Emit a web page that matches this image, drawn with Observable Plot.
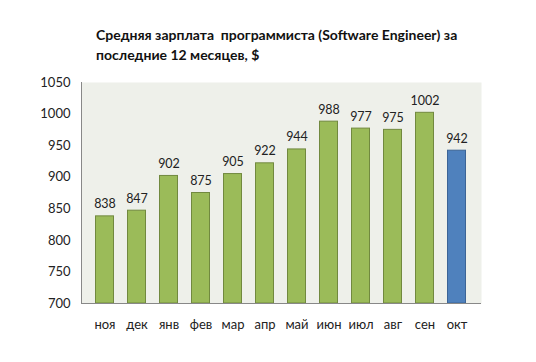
<!DOCTYPE html>
<html><head><meta charset="utf-8">
<script src="https://cdn.jsdelivr.net/npm/d3@7"></script>
<script src="https://cdn.jsdelivr.net/npm/@observablehq/plot@0.6"></script>
<style>
body{margin:0;background:#fff;font-family:Lato,"Open Sans",sans-serif;}
#wrap{position:relative;width:536px;height:362px;}
#title{position:absolute;left:96px;top:25px;font-weight:bold;font-size:14px;line-height:20px;color:#111;white-space:nowrap;}
</style></head>
<body><div id="wrap"><div id="title">Средняя зарплата&nbsp; программиста (Software Engineer) за<br>последние 12 месяцев, $</div></div>
<script>
const months = ["ноя","дек","янв","фев","мар","апр","май","июн","июл","авг","сен","окт"];
const salaries = [838, 847, 902, 875, 905, 922, 944, 988, 977, 975, 1002, 942];
const yTicks = [700, 750, 800, 850, 900, 950, 1000, 1050];
const highlight = "окт";

const data = months.map((m, i) => ({month: m, value: salaries[i], current: m === highlight}));

const chart = Plot.plot({
  width: 536, height: 362,
  marginLeft: 81, marginRight: 55, marginTop: 82, marginBottom: 59,
  style: {fontFamily: "Lato, 'Open Sans', sans-serif", fontSize: "13px", color: "#222", background: "transparent"},
  x: {domain: months, padding: 0.4, label: null, tickSize: 0, tickPadding: 16},
  y: {domain: [700, 1050], ticks: yTicks, tickFormat: d => String(d), label: null, tickSize: 0, tickPadding: 11},
  marks: [
    Plot.frame({fill: "#eef0ea", stroke: null}),
    Plot.barY(data, {x: "month", y1: 700, y2: "value",
      fill: d => d.current ? "#4f81bd" : "#9bbb59",
      stroke: d => d.current ? "#3c6496" : "#71893f", strokeWidth: 1, insetLeft: 0.5, insetRight: 0.5}),
    Plot.text(data, {x: "month", y: "value", text: d => String(d.value), dy: -12, fontSize: 12.5, fill: "#222"}),
    Plot.frame({anchor: "left", stroke: "#888"}),
    Plot.ruleY([700], {stroke: "#888"})
  ]
});
document.getElementById("wrap").prepend(chart);
chart.style.position = "absolute"; chart.style.left = "0"; chart.style.top = "0";
</script></body></html>
